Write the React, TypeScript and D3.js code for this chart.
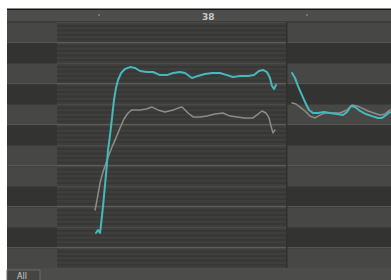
import * as d3 from "d3"

// time in beats relative to bar 38, pitch in semitones above C
const BAR_LABEL = "38"
const BEAT_TICKS = [-1, 1]
const VIEW_START = -1.885
const VIEW_END = 1.808
const BLOB_START = -1.404
const BLOB_END = 0.808
const PITCH_ROWS = [11, 10, 9, 8, 7, 6, 5, 4, 3, 2, 1, 0]
const BLACK_KEYS = [1, 3, 6, 8, 10]

const cyanT1 = [-1.029, -1.010, -0.990, -0.981, -0.962, -0.933, -0.913, -0.894, -0.875, -0.856, -0.837, -0.817, -0.788, -0.750, -0.702, -0.654, -0.606, -0.538, -0.481, -0.413, -0.346, -0.288, -0.221, -0.173, -0.106, -0.048, 0.019, 0.087, 0.163, 0.231, 0.288, 0.356, 0.433, 0.490, 0.538, 0.577, 0.615, 0.644, 0.663, 0.683, 0.702]
const cyanP1 = [1.21, 1.35, 1.21, 1.60, 2.48, 4.04, 5.26, 5.99, 6.82, 7.70, 8.28, 8.67, 9.01, 9.21, 9.30, 9.26, 9.11, 9.06, 9.06, 8.91, 8.91, 9.01, 9.06, 9.01, 8.77, 8.87, 8.96, 9.01, 9.01, 8.91, 8.82, 8.87, 8.87, 8.91, 9.11, 9.16, 9.06, 8.77, 8.38, 8.23, 8.43]

const grayT1 = [-1.038, -1.019, -0.990, -0.962, -0.923, -0.875, -0.846, -0.798, -0.760, -0.721, -0.683, -0.606, -0.548, -0.490, -0.433, -0.365, -0.288, -0.240, -0.202, -0.144, -0.096, -0.029, 0.038, 0.115, 0.192, 0.260, 0.327, 0.404, 0.481, 0.529, 0.567, 0.606, 0.635, 0.654, 0.673, 0.692]
const grayP1 = [2.33, 2.82, 3.65, 4.18, 4.77, 5.40, 5.74, 6.33, 6.77, 7.06, 7.21, 7.21, 7.26, 7.35, 7.21, 7.11, 7.21, 7.30, 7.35, 7.06, 6.87, 6.87, 6.91, 7.01, 7.06, 6.91, 6.87, 6.82, 6.82, 7.01, 7.16, 7.06, 6.82, 6.43, 6.09, 6.23]

const cyanT2 = [0.856, 0.885, 0.913, 0.942, 0.981, 1.019, 1.058, 1.106, 1.163, 1.221, 1.288, 1.346, 1.385, 1.423, 1.462, 1.510, 1.567, 1.625, 1.683, 1.721, 1.760, 1.798]
const cyanP2 = [9.01, 8.77, 8.38, 8.04, 7.60, 7.21, 7.06, 7.06, 7.11, 7.06, 7.01, 6.96, 7.11, 7.40, 7.35, 7.16, 7.01, 6.91, 6.82, 6.82, 6.96, 7.11]

const grayT2 = [0.856, 0.894, 0.933, 0.981, 1.029, 1.077, 1.125, 1.173, 1.240, 1.317, 1.385, 1.433, 1.481, 1.529, 1.587, 1.644, 1.702, 1.750, 1.798]
const grayP2 = [7.55, 7.50, 7.35, 7.16, 6.91, 6.82, 6.96, 7.06, 7.06, 7.06, 7.21, 7.45, 7.40, 7.30, 7.16, 7.06, 6.96, 7.01, 7.21]

const W = 391
const H = 280
const LEFT = 7
const HEADER_TOP = 10
const PLOT_TOP = 22
const PLOT_BOTTOM = 268

const x = d3.scaleLinear().domain([VIEW_START, VIEW_END]).range([LEFT, W])
const y = d3.scaleLinear().domain([11.5, -0.5]).range([PLOT_TOP, PLOT_BOTTOM])
const rowH = y(0) - y(1)

const line = d3.line<[number, number]>().x((d) => x(d[0])).y((d) => y(d[1]))
const zip = (t: number[], p: number[]) => t.map((v, i) => [v, p[i]] as [number, number])

export default function App() {
  const bx0 = x(BLOB_START)
  const bx1 = x(BLOB_END)
  const stripeOffsets = d3.range(4).map((i) => 3 + i * 4.5)

  return (
    <div style={{ position: "absolute", left: 0, top: 0 }}>
      <svg width={W} height={H} style={{ display: "block", background: "#fff" }}>
        {/* header */}
        <rect x={LEFT} y={HEADER_TOP - 1.5} width={W - LEFT} height={1.5} fill="#151515" />
        <rect x={LEFT} y={HEADER_TOP} width={W - LEFT} height={PLOT_TOP - HEADER_TOP} fill="#4d4e4b" />
        <rect x={LEFT} y={PLOT_TOP - 1} width={W - LEFT} height={1} fill="#3c3d3a" />
        {BEAT_TICKS.map((b) => (
          <rect key={b} x={x(b) - 0.5} y={14} width={1} height={2} fill="#9a9a98" />
        ))}
        <text x={x(0) - 1} y={19.5} fontFamily="DejaVu Sans, sans-serif" fontSize={9} fontWeight="bold" fill="#c9c9c7">
          {BAR_LABEL}
        </text>

        {/* key rows */}
        {PITCH_ROWS.map((p) => {
          const top = y(p + 0.5)
          const black = BLACK_KEYS.includes(p)
          const fill = black ? "#333331" : "#474845"
          return (
            <g key={p}>
              <rect x={LEFT} y={top} width={bx0 - LEFT} height={rowH} fill={fill} />
              <rect x={bx1} y={top} width={W - bx1} height={rowH} fill={fill} />
              <rect x={LEFT} y={top} width={bx0 - LEFT} height={1} fill="#3c3d3a" />
              <rect x={bx1} y={top} width={W - bx1} height={1} fill="#3c3d3a" />
              <rect x={bx0} y={top} width={bx1 - bx0} height={rowH} fill="#3e3f3c" />
              <rect x={bx0} y={top} width={bx1 - bx0} height={1.2} fill="#4a4b48" />
              {stripeOffsets.map((o) => (
                <rect key={o} x={bx0} y={top + o} width={bx1 - bx0} height={2} fill="#373835" />
              ))}
            </g>
          )
        })}
        <rect x={bx1 - 1} y={PLOT_TOP} width={1.5} height={PLOT_BOTTOM - PLOT_TOP} fill="#30312e" />

        {/* pitch curves */}
        <g fill="none" strokeLinejoin="round" strokeLinecap="round">
          <path d={line(zip(grayT1, grayP1)) ?? ""} stroke="#8c8c89" strokeWidth={1.5} />
          <path d={line(zip(grayT2, grayP2)) ?? ""} stroke="#8c8c89" strokeWidth={1.5} />
          <path d={line(zip(cyanT1, cyanP1)) ?? ""} stroke="#45b9bb" strokeWidth={2} />
          <path d={line(zip(cyanT2, cyanP2)) ?? ""} stroke="#45b9bb" strokeWidth={2} />
        </g>

        {/* bottom bar */}
        <rect x={LEFT} y={PLOT_BOTTOM} width={W - LEFT} height={H - PLOT_BOTTOM} fill="#4c4d4a" />
        <rect x={LEFT} y={PLOT_BOTTOM + 2} width={33} height={12} fill="#454643" stroke="#6a6b68" strokeWidth={1} />
        <text x={17} y={278.5} fontFamily="DejaVu Sans, sans-serif" fontSize={8} fill="#d0d0ce">
          All
        </text>
      </svg>
    </div>
  )
}
